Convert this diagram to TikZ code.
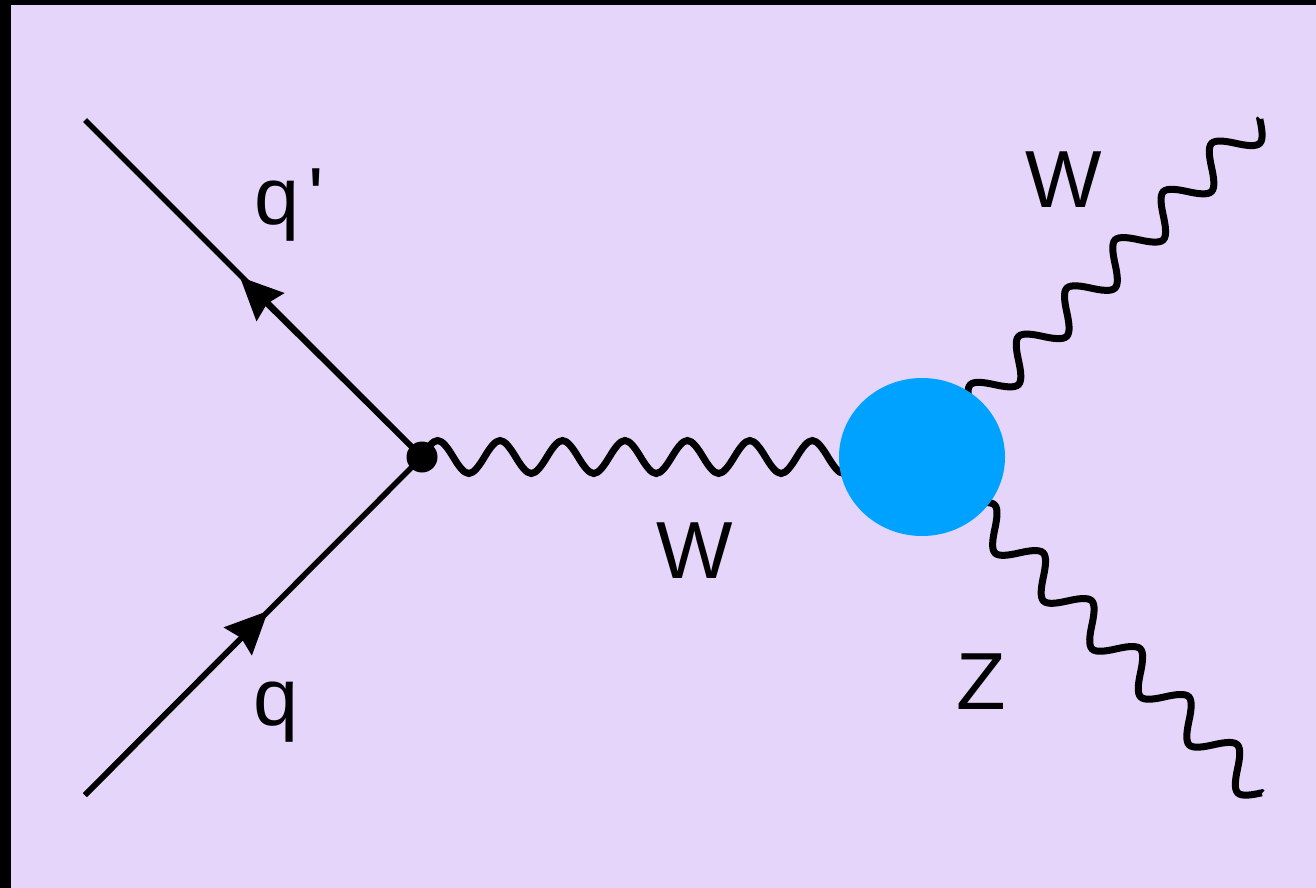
\documentclass[tikz,border=0pt]{standalone}
\usepackage{fontspec}
\newfontfamily\lblfont{Liberation Sans}
\usetikzlibrary{arrows.meta,shapes.geometric,decorations}
\definecolor{bglav}{HTML}{E6D5FA}
\definecolor{blobblue}{HTML}{00A2FF}
\pgfdeclaredecoration{sinewave}{up}{
  \state{up}[width=+.5\pgfdecorationsegmentlength, next state=down,
             switch if less than=+.5\pgfdecorationsegmentlength to final]{
    \pgfpathcurveto{\pgfqpoint{.08163\pgfdecorationsegmentlength}{.5128\pgfdecorationsegmentamplitude}}{\pgfqpoint{.17043\pgfdecorationsegmentlength}{\pgfdecorationsegmentamplitude}}{\pgfqpoint{.25\pgfdecorationsegmentlength}{\pgfdecorationsegmentamplitude}}
    \pgfpathcurveto{\pgfqpoint{.32957\pgfdecorationsegmentlength}{\pgfdecorationsegmentamplitude}}{\pgfqpoint{.41837\pgfdecorationsegmentlength}{.5128\pgfdecorationsegmentamplitude}}{\pgfqpoint{.5\pgfdecorationsegmentlength}{0pt}}
  }
  \state{down}[width=+.5\pgfdecorationsegmentlength, next state=up,
             switch if less than=+.5\pgfdecorationsegmentlength to final]{
    \pgfpathcurveto{\pgfqpoint{.08163\pgfdecorationsegmentlength}{-.5128\pgfdecorationsegmentamplitude}}{\pgfqpoint{.17043\pgfdecorationsegmentlength}{-\pgfdecorationsegmentamplitude}}{\pgfqpoint{.25\pgfdecorationsegmentlength}{-\pgfdecorationsegmentamplitude}}
    \pgfpathcurveto{\pgfqpoint{.32957\pgfdecorationsegmentlength}{-\pgfdecorationsegmentamplitude}}{\pgfqpoint{.41837\pgfdecorationsegmentlength}{-.5128\pgfdecorationsegmentamplitude}}{\pgfqpoint{.5\pgfdecorationsegmentlength}{0pt}}
  }
  \state{final}{\pgfpathlineto{\pgfpointdecoratedpathlast}}
}
\tikzset{
  fermion/.style={draw=black, line width=5.5pt},
  arrowtip/.style={draw=black, line width=5.5pt, -{Stealth[length=43pt,width=40pt,inset=5pt,line width=0pt]}},
  boson/.style={draw=black, line width=7pt, decorate, decoration={sinewave, amplitude=#1}},
  vertexdot/.style={circle, fill=black, minimum size=31pt, inner sep=0pt},
  blobstyle/.style={ellipse, fill=blobblue, minimum width=166pt, minimum height=158pt, inner sep=0pt},
  lbl/.style={font=\lblfont\fontsize{81}{90}\selectfont, inner sep=0pt, anchor=base}
}
\begin{document}
\begin{tikzpicture}[x=1pt,y=-1pt]
  \useasboundingbox (0,0) rectangle (1316,888);
  \fill[black] (0,0) rectangle (1316,888);
  \fill[bglav] (11,5) rectangle (1316,888);

  \coordinate (qpin) at (85,120);
  \coordinate (qin) at (85,795);
  \coordinate (qptip) at (240,277);
  \coordinate (qtip) at (268,611);
  \coordinate (bc) at (922,457);
  \coordinate (wout) at (1260,119);
  \coordinate (zout) at (1262,793);

  \node[vertexdot] (v) at (422,457) {};

  \draw[fermion] (qpin) -- (v.center);
  \draw[fermion] (qin) -- (v.center);
  \draw[arrowtip] (v.center) -- (qptip);
  \draw[arrowtip] (qin) -- (qtip);

  \draw[boson=16.5pt, decoration={segment length=62.45pt}] (v.center) -- (bc);
  \draw[boson=17pt, decoration={segment length=68.25pt}] (bc) -- (wout);
  \draw[boson=17pt, decoration={segment length=68.25pt}] (bc) -- (zout);

  \node[blobstyle] (blob) at (bc) {};

  \node[lbl, anchor=base west] (lqp) at (254,224) {q\kern9pt'};
  \node[lbl] (lq) at (276.5,725) {q};
  \node[lbl] (lw) at (694.5,578) {W};
  \node[lbl] (lwo) at (1063.5,207) {W};
  \node[lbl] (lz) at (981.5,709) {Z};
\end{tikzpicture}
\end{document}
